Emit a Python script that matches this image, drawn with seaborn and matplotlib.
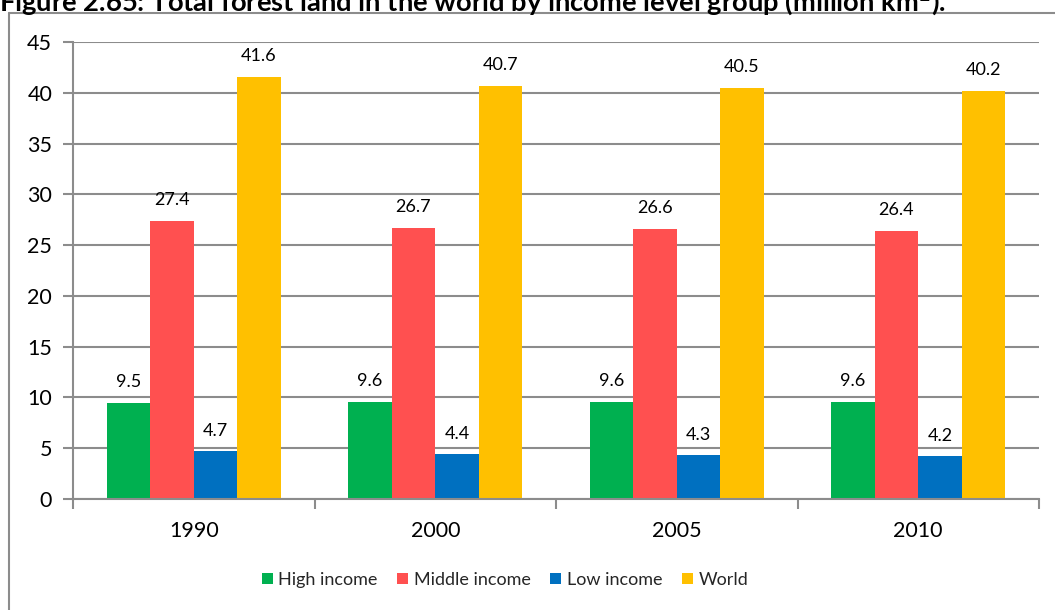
import matplotlib
matplotlib.use("Agg")
import matplotlib.pyplot as plt
from matplotlib.lines import Line2D
from matplotlib.patches import Patch
import pandas as pd
import seaborn as sns

years = ["1990", "2000", "2005", "2010"]
groups = ["High income", "Middle income", "Low income", "World"]
high_income = [9.5, 9.6, 9.6, 9.6]
middle_income = [27.4, 26.7, 26.6, 26.4]
low_income = [4.7, 4.4, 4.3, 4.2]
world = [41.6, 40.7, 40.5, 40.2]
colors = ["#00B050", "#FF5050", "#0070C0", "#FFC000"]

series = [high_income, middle_income, low_income, world]
df = pd.DataFrame(
    [(y, g, v) for g, vals in zip(groups, series) for y, v in zip(years, vals)],
    columns=["year", "group", "value"],
)

sns.set_style("white")
plt.rcParams["font.family"] = ["Lato", "DejaVu Sans"]
grid_c = "#8C8C8C"

fig = plt.figure(figsize=(10.55, 6.1), dpi=100)
ax = fig.add_axes([73 / 1055, 111 / 610, 966 / 1055, 457 / 610])

sns.barplot(data=df, x="year", y="value", hue="group", hue_order=groups,
            palette=colors, saturation=1, width=0.72, ax=ax, legend=False,
            edgecolor="none", linewidth=0)

# value labels above every bar
for container in ax.containers:
    ax.bar_label(container, fmt="%.1f", padding=9, fontsize=13, color="#000000")

ax.set_ylim(0, 45)
ax.set_xlim(-0.5, 3.5)
ax.set_yticks(range(0, 46, 5))
ax.yaxis.grid(True, color=grid_c, linewidth=1.5)
ax.set_axisbelow(True)
ax.set_xlabel("")
ax.set_ylabel("")
for side in ["top", "right"]:
    ax.spines[side].set_visible(False)
for side in ["left", "bottom"]:
    ax.spines[side].set_color(grid_c)
    ax.spines[side].set_linewidth(1.5)

ax.tick_params(axis="y", which="major", left=True, length=7, width=1.5,
               color=grid_c, labelsize=15.5, pad=8, labelcolor="#000000")
# category labels without ticks; ticks at the category boundaries instead
ax.tick_params(axis="x", which="major", bottom=False, labelsize=15.5, pad=12,
               labelcolor="#000000")
ax.set_xticks([-0.5, 0.5, 1.5, 2.5, 3.5], minor=True)
ax.tick_params(axis="x", which="minor", bottom=True, length=7, width=1.5,
               color=grid_c)

# legend
handles = [Patch(facecolor=c, edgecolor="none") for c in colors]
fig.legend(handles, groups, loc="center", bbox_to_anchor=(505 / 1055, 1 - 580 / 610),
           ncol=4, frameon=False, fontsize=13, handlelength=0.6, handleheight=0.6,
           handletextpad=0.3, columnspacing=1.1)

# chart frame
fig.add_artist(Line2D([9 / 1055, 9 / 1055], [0, 1 - 13 / 610], color=grid_c, lw=1.5,
                      transform=fig.transFigure))
fig.add_artist(Line2D([9 / 1055, 1], [1 - 13 / 610, 1 - 13 / 610], color=grid_c, lw=1.5,
                      transform=fig.transFigure))

fig.text(-0.001, 1 - 10.5 / 610,
         "Figure 2.65: Total forest land in the world by income level group (million km$^2$).",
         ha="left", va="baseline", fontsize=19.7, fontweight="bold", color="#000000")

fig.savefig("out.png", dpi=100)
